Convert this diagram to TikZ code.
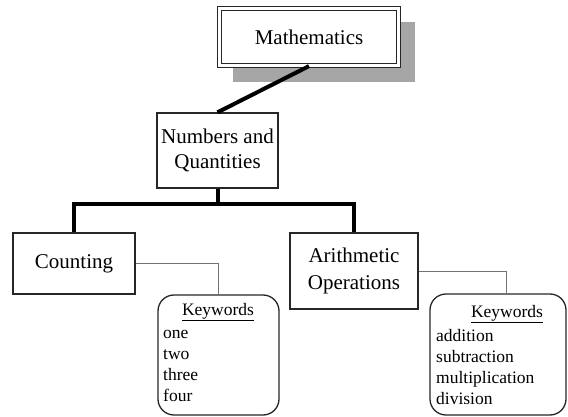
\documentclass[tikz,border=0pt]{standalone}
\usepackage{fontspec}
\setmainfont{Liberation Serif}
\begin{document}
\begin{tikzpicture}[x=1pt,y=-1pt,
  box/.style={draw=black!85,line width=1.3pt,inner sep=0pt,align=center,fill=white,
    font=\fontsize{21}{25}\selectfont},
  kwbox/.style={draw=black!85,line width=1.3pt,rounded corners=16pt,inner sep=0pt},
  kwtext/.style={inner sep=0pt,font=\fontsize{17.5}{21}\selectfont},
  biglink/.style={line width=4pt,black},
  smalllink/.style={line width=1pt,black!55}]
\useasboundingbox (0,0) rectangle (568,417);
% shadow
\fill[black!35] (233,22) rectangle (415,82);
% nodes
\node[box,double=white,double distance=2.5pt,line width=1.2pt,
      minimum width=179pt,minimum height=57pt] (math) at (309,37) {Mathematics};
\node[box,minimum width=121pt,minimum height=75pt] (num) at (217.5,150.5) {Numbers and\\Quantities};
\node[box,minimum width=122pt,minimum height=61pt] (count) at (74,263.5) {Counting};
\node[box,minimum width=128pt,minimum height=76pt,font=\fontsize{21}{27}\selectfont] (arith) at (354,271) {Arithmetic\\Operations};
\node[kwbox,minimum width=121pt,minimum height=120pt] (kw1) at (218.5,355) {};
\node[kwbox,minimum width=136pt,minimum height=121pt] (kw2) at (498,354.5) {};
% keyword texts
\node[kwtext,anchor=base] (kw1h) at (218,315) {\underline{Keywords}};
\foreach \w/\yy [count=\i] in {one/338,two/359,three/380,four/401}
  \node[kwtext,anchor=base west] (kw1w\i) at (163,\yy) {\w};
\node[kwtext,anchor=base] (kw2h) at (507,317) {\underline{Keywords}};
\foreach \w/\yy [count=\i] in {addition/341,subtraction/362,multiplication/383,division/404}
  \node[kwtext,anchor=base west] (kw2w\i) at (436,\yy) {\w};
% connectors
\draw[biglink] (math.south) -- (num.north);
\draw[biglink] (num.south) -- ++(0,15) coordinate (fork) -| (count.north);
\draw[biglink] (fork) -| (arith.north);
\draw[smalllink] (count.east) -| (kw1.north);
\draw[smalllink] (arith.east) -| ([xshift=8pt]kw2.north);
\end{tikzpicture}
\end{document}
